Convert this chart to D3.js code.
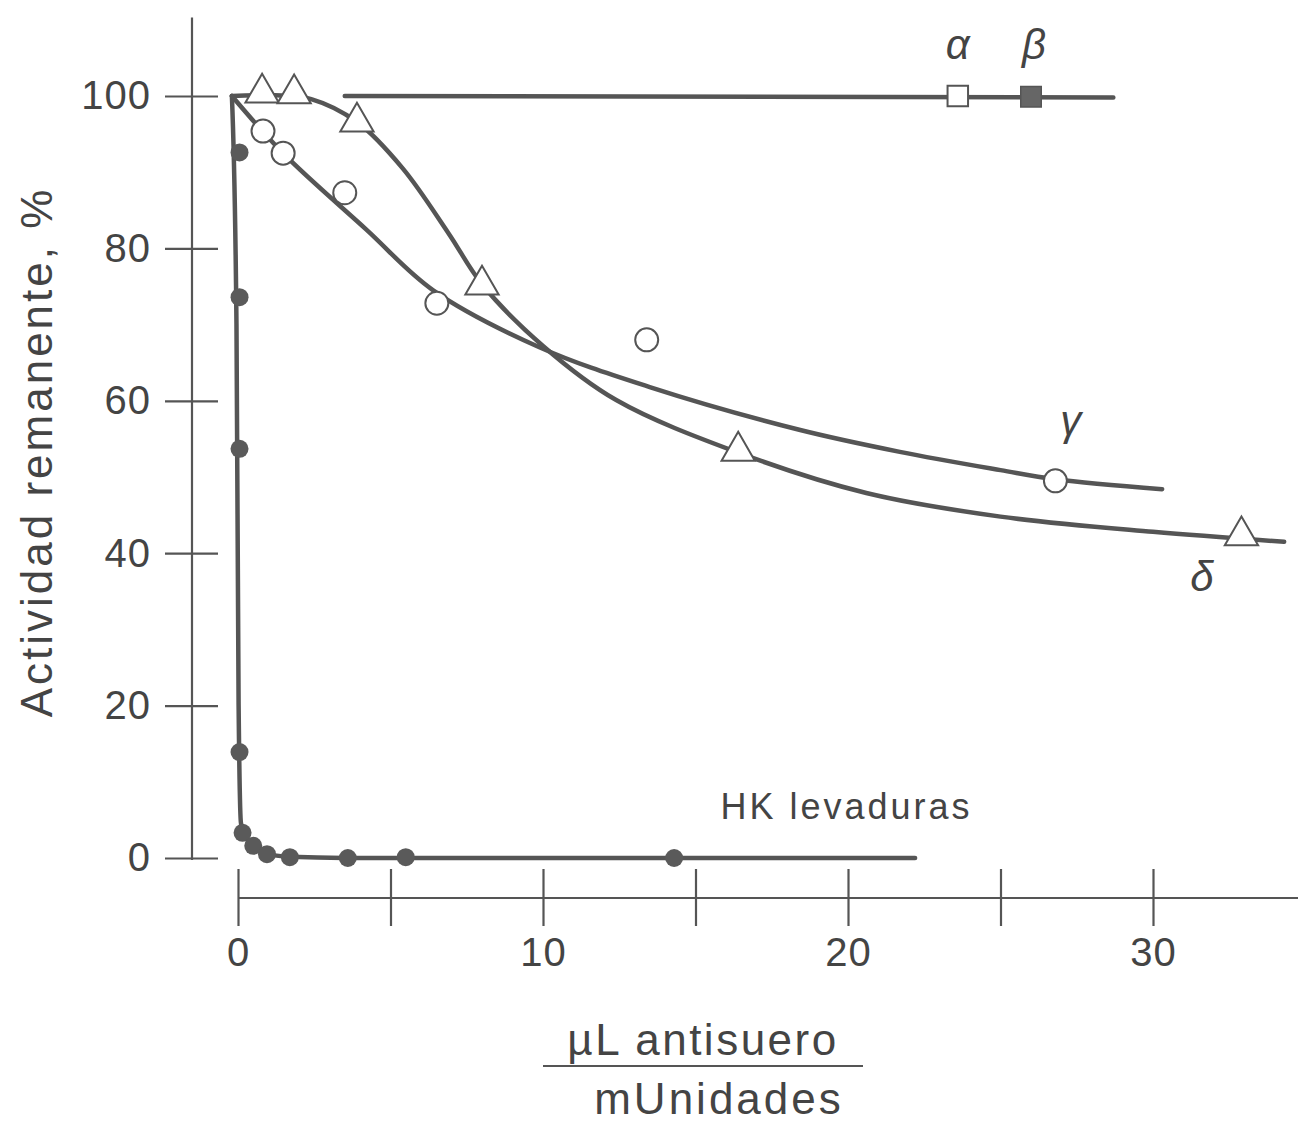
<!DOCTYPE html>
<html>
<head>
<meta charset="utf-8">
<script src="https://cdn.jsdelivr.net/npm/d3@7"></script>
<style>
  body { margin: 0; background: #fff; }
  text { font-family: "Liberation Sans", Arial, sans-serif; fill: #444; }
</style>
</head>
<body>
<div id="chart"></div>
<script>
// tick values
var xTicks = [0, 5, 10, 15, 20, 25, 30];
var xTickLabels = [0, 10, 20, 30];
var yTicks = [0, 20, 40, 60, 80, 100];

// HK levaduras (filled dots)
var hkPoints = [[0.05, 92.6], [0.05, 73.6], [0.05, 53.7], [0.05, 13.9], [0.15, 3.3],
  [0.5, 1.6], [0.95, 0.5], [1.7, 0.1], [3.6, 0], [5.5, 0.1], [14.3, 0]];
var hkCurve = [[-0.2, 100], [-0.05, 70], [0.02, 20], [0.1, 4.5], [0.45, 1.8],
  [0.9, 0.6], [1.7, 0.15], [3.5, 0], [22.2, 0]];

// gamma (open circles)
var gammaPoints = [[0.82, 95.4], [1.48, 92.5], [3.5, 87.3], [6.52, 72.8], [13.4, 68.0], [26.8, 49.5]];
var gammaCurve = [[-0.2, 100], [1.5, 92.4], [4.2, 82.5], [6.4, 74.5], [9.9, 67], [13.5, 61.8],
  [18.4, 56.2], [21.7, 53.3], [25, 50.9], [26.8, 49.7], [30.3, 48.4]];

// delta (open triangles)
var deltaPoints = [[0.79, 100.4], [1.84, 100.3], [3.9, 96.6], [8.0, 75.2], [16.4, 53.4], [32.9, 42.3]];
var deltaCurve = [[-0.2, 100], [1.2, 100.1], [2.4, 99.6], [3.9, 96.6], [5.4, 90.5], [6.9, 82],
  [8, 75.3], [10, 67.2], [12.4, 60.1], [16.4, 53.2], [20.6, 47.9], [25, 44.8], [30, 42.8], [34.3, 41.5]];

// alpha / beta
var abLine = [[3.5, 100], [28.7, 99.8]];
var alphaPoints = [[23.6, 100]];
var betaPoints = [[26.0, 99.9]];

var labels = [
  {t: "α", x: 23.6, y: 104.8},
  {t: "β", x: 26.1, y: 104.8},
  {t: "γ", x: 27.3, y: 55.5},
  {t: "δ", x: 31.6, y: 35}
];

var ink = "#555";
var svg = d3.select("#chart").append("svg")
  .attr("width", 1298).attr("height", 1122);

var x = d3.scaleLinear().domain([0, 30]).range([238, 1153]);
var y = d3.scaleLinear().domain([0, 100]).range([858, 96]);

// y axis
var yAxis = svg.append("g")
  .attr("transform", "translate(192,0)")
  .call(d3.axisLeft(y).tickValues(yTicks).tickSize(0).tickPadding(41));
yAxis.select(".domain").remove();
yAxis.selectAll(".tick line").attr("x1", -27).attr("x2", 26)
  .attr("stroke", ink).attr("stroke-width", 2.2);
yAxis.selectAll(".tick text").attr("font-size", 40).attr("letter-spacing", 1)
  .attr("fill", "#444").attr("font-family", "Liberation Sans, Arial, sans-serif");
yAxis.append("line")
  .attr("x1", 0).attr("x2", 0).attr("y1", y(110.3)).attr("y2", y(0) + 2)
  .attr("stroke", ink).attr("stroke-width", 2.2);

// x axis
var xAxis = svg.append("g")
  .attr("transform", "translate(0,898)")
  .call(d3.axisBottom(x).tickValues(xTicks).tickSize(0).tickPadding(40)
    .tickFormat(function(d) { return xTickLabels.indexOf(d) >= 0 ? d : ""; }));
xAxis.select(".domain").remove();
xAxis.selectAll(".tick line").attr("y1", -29).attr("y2", 28)
  .attr("stroke", ink).attr("stroke-width", 2.2);
xAxis.selectAll(".tick text").attr("font-size", 40).attr("letter-spacing", 1)
  .attr("fill", "#444").attr("font-family", "Liberation Sans, Arial, sans-serif");
xAxis.append("line")
  .attr("x1", x(0)).attr("x2", x(35)).attr("y1", 0).attr("y2", 0)
  .attr("stroke", ink).attr("stroke-width", 2.2);

// axis titles
svg.append("g")
  .attr("transform", "translate(52,452)")
  .append("text")
  .attr("text-anchor", "middle")
  .attr("transform", "rotate(-90)")
  .attr("font-size", 44)
  .attr("letter-spacing", 3)
  .text("Actividad remanente, %");

svg.append("text")
  .attr("x", 703).attr("y", 1055)
  .attr("text-anchor", "middle")
  .attr("font-size", 44).attr("letter-spacing", 2.5)
  .text("µL antisuero");
svg.append("line")
  .attr("x1", 543).attr("x2", 863).attr("y1", 1066).attr("y2", 1066)
  .attr("stroke", ink).attr("stroke-width", 2);
svg.append("text")
  .attr("x", 719).attr("y", 1114)
  .attr("text-anchor", "middle")
  .attr("font-size", 44).attr("letter-spacing", 3)
  .text("mUnidades");

svg.append("text")
  .attr("x", x(19.95)).attr("y", y(5.1))
  .attr("text-anchor", "middle")
  .attr("font-size", 36).attr("letter-spacing", 3)
  .text("HK levaduras");

// curves
var smooth = d3.line().x(d => x(d[0])).y(d => y(d[1])).curve(d3.curveCatmullRom.alpha(0.5));
var straight = d3.line().x(d => x(d[0])).y(d => y(d[1]));

[hkCurve, gammaCurve, deltaCurve].forEach(function(c) {
  svg.append("path").datum(c)
    .attr("d", c === hkCurve ? d3.line().x(d => x(d[0])).y(d => y(d[1])).curve(d3.curveMonotoneX) : smooth)
    .attr("fill", "none").attr("stroke", ink)
    .attr("stroke-width", 4.5).attr("stroke-linecap", "round");
});
svg.append("path").datum(abLine)
  .attr("d", straight)
  .attr("fill", "none").attr("stroke", ink)
  .attr("stroke-width", 4.5).attr("stroke-linecap", "round");

// markers
svg.selectAll(".hk").data(hkPoints).enter().append("circle")
  .attr("cx", d => x(d[0])).attr("cy", d => y(d[1])).attr("r", 9)
  .attr("fill", "#5a5a5a");

svg.selectAll(".gamma").data(gammaPoints).enter().append("circle")
  .attr("cx", d => x(d[0])).attr("cy", d => y(d[1])).attr("r", 11.5)
  .attr("fill", "#fff").attr("stroke", ink).attr("stroke-width", 2);

var tri = d3.symbol().type(d3.symbolTriangle).size(480);
svg.selectAll(".delta").data(deltaPoints).enter().append("path")
  .attr("d", tri)
  .attr("transform", d => "translate(" + x(d[0]) + "," + y(d[1]) + ")")
  .attr("fill", "#fff").attr("stroke", ink).attr("stroke-width", 2);

var sq = d3.symbol().type(d3.symbolSquare).size(420);
svg.selectAll(".alpha").data(alphaPoints).enter().append("path")
  .attr("d", sq)
  .attr("transform", d => "translate(" + x(d[0]) + "," + y(d[1]) + ")")
  .attr("fill", "#fff").attr("stroke", ink).attr("stroke-width", 2);
svg.selectAll(".beta").data(betaPoints).enter().append("path")
  .attr("d", sq)
  .attr("transform", d => "translate(" + x(d[0]) + "," + y(d[1]) + ")")
  .attr("fill", "#666").attr("stroke", ink).attr("stroke-width", 1.5);

// greek labels
svg.selectAll(".greek").data(labels).enter().append("text")
  .attr("x", d => x(d.x)).attr("y", d => y(d.y))
  .attr("text-anchor", "middle")
  .attr("font-size", 42)
  .attr("font-style", "italic")
  .attr("font-family", "DejaVu Sans, sans-serif")
  .text(d => d.t);
</script>
</body>
</html>
